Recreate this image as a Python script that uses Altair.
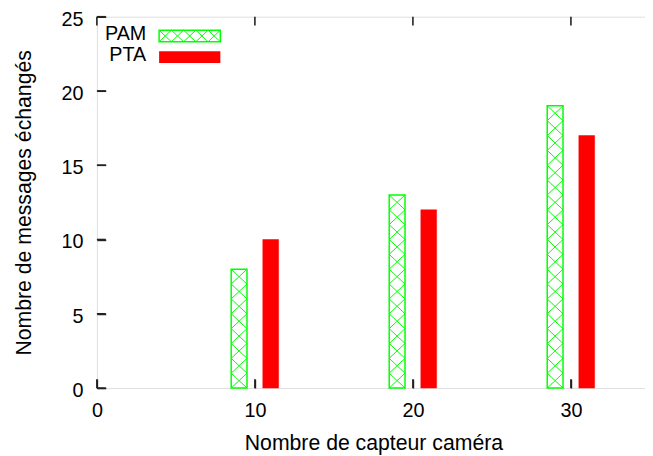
import altair as alt
import pandas as pd

# ---- data ----
categories = [10, 20, 30]
pam = [8, 13, 19]
pta = [10, 12, 17]
series = ["PAM", "PTA"]
x_ticks = [0, 10, 20, 30]
y_ticks = [0, 5, 10, 15, 20, 25]

# ---- layout / style ----
W, H = 555, 376
PX_X = 16.0                  # px per x unit; the frame's right side lies past the window
XMAX = W / PX_X
YMAX = 25
GREEN = "#00ff00"
RED = "#ff0000"
FONT = "Liberation Sans"
FS = 20
TFS = 21.5
TICK = 9
XSHAPE = "M-1,-0.94L1,0.94M-1,0.94L1,-0.94"

bars = pd.DataFrame({
    "cat": categories * 2,
    "series": [series[0]] * len(pam) + [series[1]] * len(pta),
    "value": pam + pta,
})
bars["x0"] = bars["cat"] + bars["series"].map({series[0]: -1.5, series[1]: 0.5})
bars["x1"] = bars["x0"] + 1
bars["zero"] = 0

hatch_rows = []
for c, v in zip(categories, pam):
    for k in range(v):
        hatch_rows.append({"xc": c - 1, "yc": k + 0.5})
hatch = pd.DataFrame(hatch_rows)

xscale = alt.Scale(domain=[0, XMAX], nice=False, zero=False)
yscale = alt.Scale(domain=[0, YMAX], nice=False)

# axes pulled inside the frame by the tick length, so their ticks point inward
xaxis = alt.Axis(values=x_ticks, offset=-TICK, ticks=True, tickSize=TICK,
                 tickColor="#222222", tickWidth=1.6, domain=False, grid=False,
                 labelPadding=13, labelFont=FONT, labelFontSize=FS, labelColor="black",
                 title="Nombre de capteur caméra", titleFont=FONT, titleFontSize=TFS,
                 titleFontWeight="normal", titleColor="black", titlePadding=12,
                 titleX=280, labelFlush=False)
yaxis = alt.Axis(values=y_ticks, offset=-TICK, ticks=True, tickSize=TICK,
                 tickColor="#222222", tickWidth=1.6, domain=False, grid=False,
                 labelPadding=14, labelOffset=2.5, labelFont=FONT, labelFontSize=FS,
                 labelColor="black",
                 title="Nombre de messages échangés", titleFont=FONT, titleFontSize=TFS,
                 titleFontWeight="normal", titleColor="black", titlePadding=26,
                 labelFlush=False)

pam_bars = alt.Chart(bars[bars["series"] == series[0]]).mark_rect(
    fill="white", fillOpacity=0, stroke=GREEN, strokeWidth=1.5
).encode(
    x=alt.X("x0:Q", scale=xscale, axis=xaxis),
    x2="x1:Q",
    y=alt.Y("zero:Q", scale=yscale, axis=yaxis),
    y2="value:Q",
)

pam_hatch = alt.Chart(hatch).mark_point(
    shape=XSHAPE, size=256, filled=False, stroke=GREEN, strokeWidth=1, opacity=1
).encode(
    x=alt.X("xc:Q", scale=xscale, axis=xaxis),
    y=alt.Y("yc:Q", scale=yscale, axis=yaxis),
)

pta_bars = alt.Chart(bars[bars["series"] == series[1]]).mark_rect(
    fill=RED, stroke=RED, strokeWidth=0.5
).encode(
    x=alt.X("x0:Q", scale=xscale, axis=xaxis),
    x2="x1:Q",
    y=alt.Y("zero:Q", scale=yscale, axis=yaxis),
    y2="value:Q",
)

# inward ticks: left, bottom and mirrored top
yt = pd.DataFrame({"v": y_ticks})
xt = pd.DataFrame({"v": x_ticks})
tick_l = alt.Chart(yt).mark_rule(color="#222222", strokeWidth=1.6).encode(
    y=alt.Y("v:Q", scale=yscale, axis=yaxis), x=alt.value(0), x2=alt.value(TICK))
tick_b = alt.Chart(xt).mark_rule(color="#222222", strokeWidth=1.6).encode(
    x=alt.X("v:Q", scale=xscale, axis=xaxis), y=alt.value(H - TICK), y2=alt.value(H))
tick_t = alt.Chart(xt).mark_rule(color="#222222", strokeWidth=1.6).encode(
    x=alt.X("v:Q", scale=xscale, axis=xaxis), y=alt.value(0), y2=alt.value(TICK))

# legend (gnuplot style: label then swatch)
leg_df = pd.DataFrame({"name": series})
legend_layers = []
row_y = [19.5, 41]
for i, name in enumerate(series):
    d = leg_df[leg_df["name"] == name]
    legend_layers.append(
        alt.Chart(d).mark_text(align="right", baseline="middle", font=FONT,
                               fontSize=FS, color="black").encode(
            text="name:N", x=alt.value(50), y=alt.value(row_y[i] - 1.8))
    )
    if i == 0:
        legend_layers.append(
            alt.Chart(d).mark_rect(fill="white", fillOpacity=0, stroke=GREEN,
                                   strokeWidth=1.5).encode(
                x=alt.value(63), x2=alt.value(125),
                y=alt.value(row_y[i] - 5.8), y2=alt.value(row_y[i] + 5.8))
        )
        for j in range(5):
            legend_layers.append(
                alt.Chart(d).mark_point(shape=XSHAPE, size=154, filled=False,
                                        stroke=GREEN, strokeWidth=1, opacity=1).encode(
                    x=alt.value(63 + 6.2 + 12.4 * j), y=alt.value(row_y[i]))
            )
    else:
        legend_layers.append(
            alt.Chart(d).mark_rect(fill=RED).encode(
                x=alt.value(63), x2=alt.value(125),
                y=alt.value(row_y[i] - 6), y2=alt.value(row_y[i] + 6))
        )

chart = alt.layer(
    pam_bars, pam_hatch, pta_bars, tick_l, tick_b, tick_t, *legend_layers
).properties(
    width=W, height=H,
    autosize=alt.AutoSizeParams(type="none"),
    padding={"left": 90, "top": 6, "right": 0, "bottom": 66},
).configure_view(
    stroke="black", strokeWidth=1.6
).configure(background="white")

chart.save("out.html", embed_options={"renderer": "svg", "actions": False})
